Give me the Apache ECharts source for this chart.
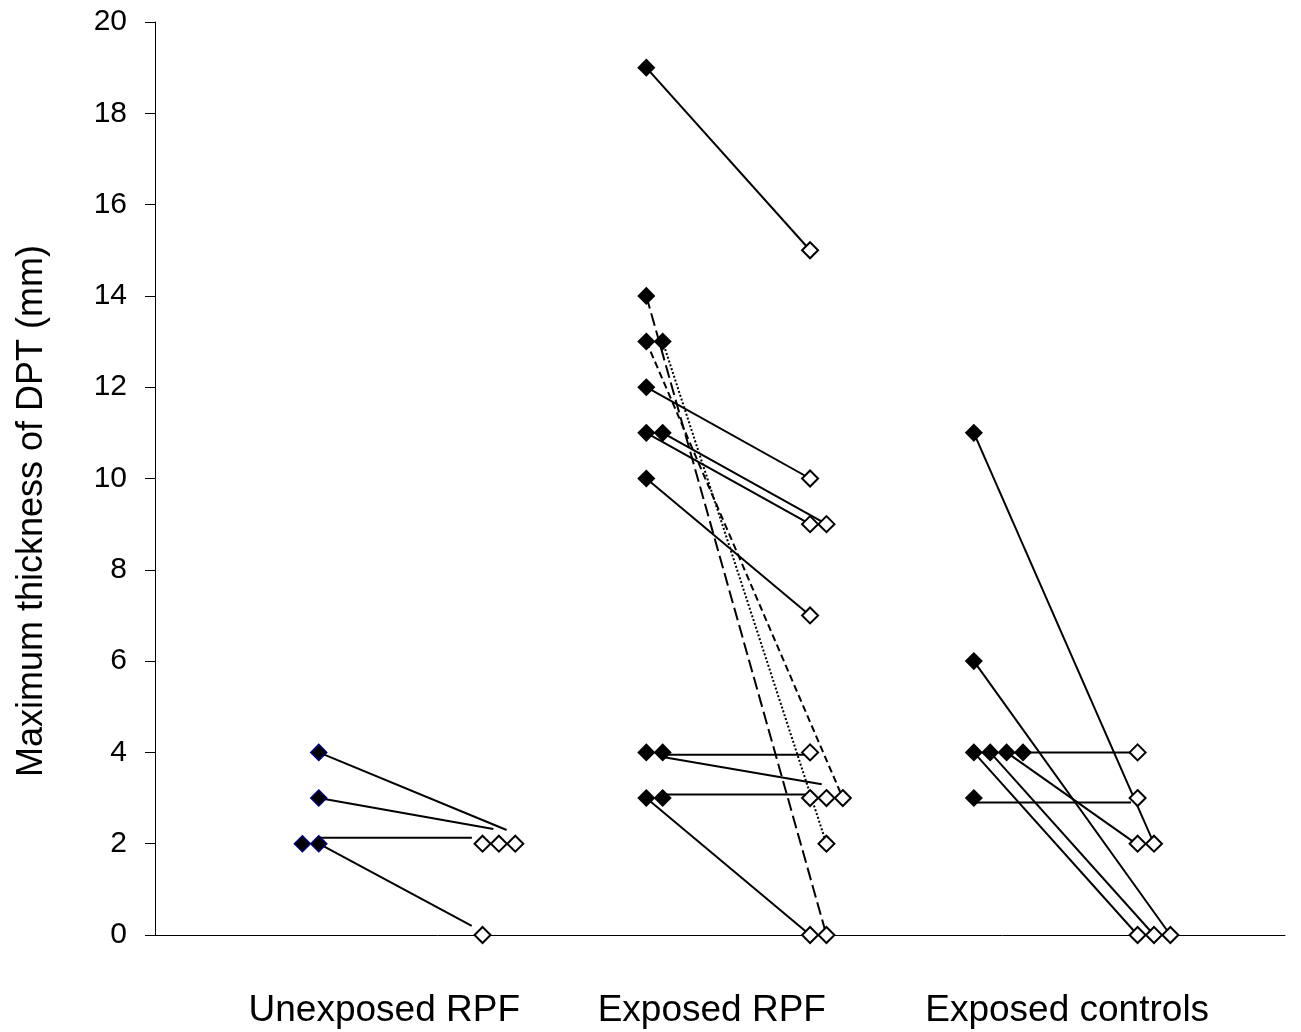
<!DOCTYPE html>
<html>
<head>
<meta charset="utf-8">
<script src="https://cdn.jsdelivr.net/npm/echarts@6/dist/echarts.min.js"></script>
<style>html,body{margin:0;padding:0;background:#fff}#chart{width:1301px;height:1032px}</style>
</head>
<body>
<div id="chart"></div>
<script>
// Category labels and where they sit along the x axis
const categories = ['Unexposed RPF', 'Exposed RPF', 'Exposed controls'];
const categoryPos = [14, 34.0, 55.7];

// Markers: [jittered x position, thickness mm]
const unexposedBefore = [[9, 2], [10, 2], [10, 3], [10, 4]];
const unexposedAfter = [[20, 2], [21, 2], [22, 2], [20, 0]];
const exposedBefore = [[30, 19], [30, 14], [30, 13], [31, 13], [30, 12], [30, 11], [31, 11], [30, 10], [30, 4], [31, 4], [30, 3], [31, 3]];
const exposedAfter = [[40, 15], [40, 10], [40, 9], [41, 9], [40, 7], [40, 4], [40, 3], [41, 3], [42, 3], [41, 2], [40, 0], [41, 0]];
const controlsBefore = [[50, 11], [50, 6], [50, 4], [51, 4], [52, 4], [53, 4], [50, 3]];
const controlsAfter = [[60, 4], [60, 3], [60, 2], [61, 2], [60, 0], [61, 0], [62, 0]];

// Connecting lines (drawn separately, as in the original)
const solidLinks = [
  [[10, 4], [21.47, 2.3]],
  [[10, 3], [20.66, 2.32]],
  [[10, 2.13], [19.35, 2.13]],
  [[10, 2], [19.34, 0.2]],
  [[30, 19], [40, 15]],
  [[30, 12], [40, 10]],
  [[30, 11], [40, 9]],
  [[31, 11], [41, 9]],
  [[30, 10], [40, 7]],
  [[31, 3.95], [40, 3.95]],
  [[31, 3.9], [40.71, 3.3]],
  [[31, 3.08], [40, 3.08]],
  [[30, 3], [40, 0]],
  [[50, 11], [61, 2]],
  [[50, 6], [62, 0]],
  [[53, 4], [60, 4]],
  [[52, 4], [59.75, 2.04]],
  [[50, 4], [60, 0]],
  [[51, 4], [61, 0]],
  [[50, 2.9], [59.6, 2.9]]
];
const longDashLinks = [[[30, 14], [41, 0]]];
const shortDashLinks = [[[30, 13], [42, 3]]];
const dottedLinks = [[[31, 13], [41, 2]]];

const FONT = '"Liberation Sans", Arial, Helvetica, sans-serif';

function lineSeries(links, type) {
  return links.map(function (seg) {
    return {
      type: 'line',
      data: seg,
      symbol: 'none',
      silent: true,
      z: 1,
      lineStyle: { color: '#000', width: 2, type: type }
    };
  });
}

function markerSeries(data, filled, border) {
  return {
    type: 'scatter',
    data: data,
    symbol: 'diamond',
    symbolSize: filled ? 16 : 16,
    z: 5,
    itemStyle: filled
      ? { color: '#000', borderColor: border || '#000', borderWidth: 1.5, opacity: 1 }
      : { color: '#fff', borderColor: '#000', borderWidth: 2, opacity: 1 }
  };
}

const series = []
  .concat(lineSeries(solidLinks, 'solid'))
  .concat(lineSeries(longDashLinks, [13, 5]))
  .concat(lineSeries(shortDashLinks, [7, 4]))
  .concat(lineSeries(dottedLinks, [2, 2]))
  .concat([
    markerSeries(unexposedBefore, true, '#00007a'),
    markerSeries(unexposedAfter, false),
    markerSeries(exposedBefore, true),
    markerSeries(exposedAfter, false),
    markerSeries(controlsBefore, true),
    markerSeries(controlsAfter, false)
  ]);

const chart = echarts.init(document.getElementById('chart'));
chart.setOption({
  animation: false,
  backgroundColor: '#fff',
  grid: { left: 155, right: 16, top: 22, bottom: 97, containLabel: false },
  xAxis: {
    type: 'value',
    min: 0,
    max: 69,
    splitLine: { show: false },
    axisTick: { show: false },
    axisLine: { show: true, onZero: false, lineStyle: { color: '#000', width: 1 } },
    axisLabel: {
      customValues: categoryPos,
      formatter: function (v) {
        for (let i = 0; i < categoryPos.length; i++) {
          if (Math.abs(categoryPos[i] - v) < 1e-6) return categories[i];
        }
        return '';
      },
      fontSize: 37,
      fontFamily: FONT,
      color: '#000',
      margin: 57
    }
  },
  yAxis: {
    type: 'value',
    min: 0,
    max: 20,
    interval: 2,
    splitLine: { show: false },
    axisLine: { show: true, lineStyle: { color: '#000', width: 1 } },
    axisTick: { show: true, inside: false, length: 10, lineStyle: { color: '#000', width: 1 } },
    axisLabel: { fontSize: 30, fontFamily: FONT, color: '#000', margin: 28 }
  },
  graphic: [{
    type: 'text',
    x: 32,
    y: 511,
    rotation: Math.PI / 2,
    style: {
      text: 'Maximum thickness of DPT (mm)',
      fontSize: 36,
      fontFamily: FONT,
      fill: '#000',
      textAlign: 'center',
      textVerticalAlign: 'middle'
    }
  }],
  series: series
});
</script>
</body>
</html>
